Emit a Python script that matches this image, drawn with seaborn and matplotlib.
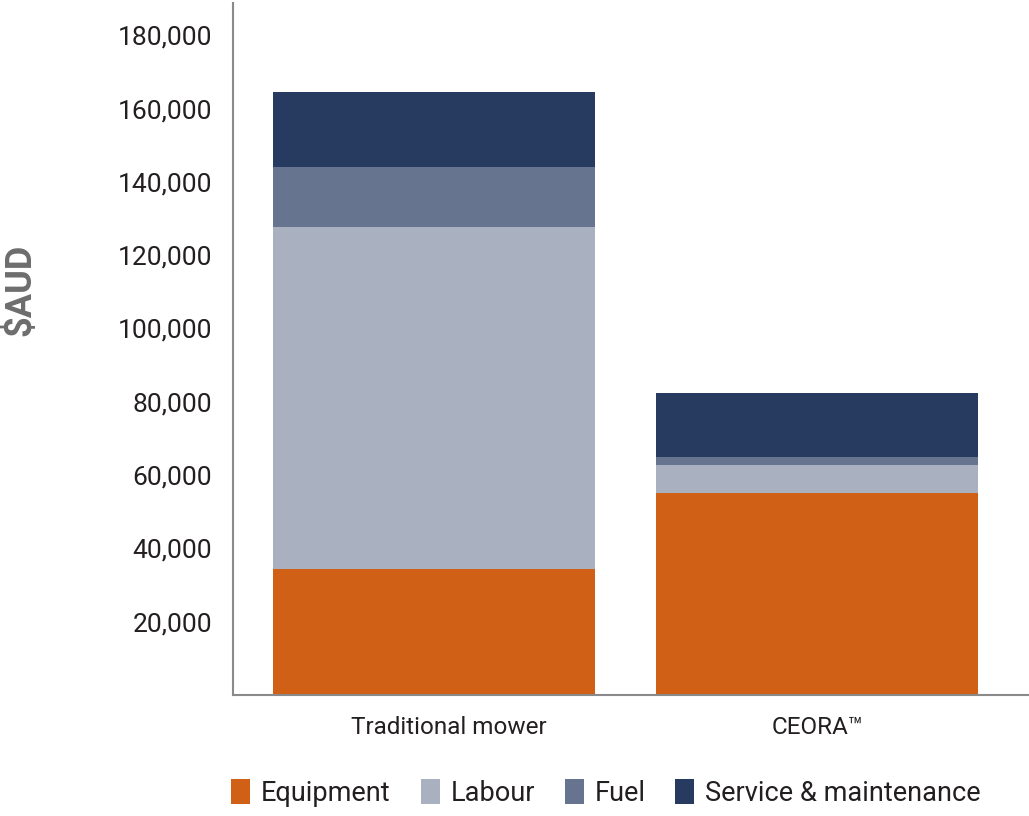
import numpy as np
import pandas as pd
import seaborn as sns
import matplotlib.pyplot as plt
import matplotlib.transforms as mtransforms
from matplotlib.patches import Patch

# data
mowers = ["Traditional mower", "CEORA\u2122"]
equipment = [34400, 55100]
labour = [93300, 7600]
fuel = [16400, 2200]
service = [20500, 17500]

series = ["Equipment", "Labour", "Fuel", "Service & maintenance"]
colours = ["#D06015", "#A9B0C0", "#66748F", "#273A60"]
ticks = [20000, 40000, 60000, 80000, 100000, 120000, 140000, 160000, 180000]

sns.set_style("white")
plt.rcParams['font.family'] = ['Liberation Sans Narrow', 'Roboto', 'DejaVu Sans']
txt = "#231F20"

fig = plt.figure(figsize=(10.29, 8.16), dpi=100)
ax = fig.add_axes([233/1029, 121/816, 1 - 233/1029, 692/816])

bottom = np.zeros(len(mowers))
for name, vals, col in zip(series, [equipment, labour, fuel, service], colours):
    sns.barplot(x=mowers, y=vals, bottom=bottom, color=col, width=0.84,
                linewidth=0, saturation=1, ax=ax)
    bottom += np.array(vals)

ax.set_xlim(-0.525, 1.553)
ax.set_ylim(0, 188800)
ax.set_yticks(ticks)
ax.set_yticklabels([f"{t:,}" for t in ticks])
ax.tick_params(axis="y", length=0, pad=15, labelsize=19, labelcolor=txt)
ax.tick_params(axis="x", length=0, pad=15, labelsize=17.5, labelcolor=txt)
for s in ["top", "right"]:
    ax.spines[s].set_visible(False)
for s in ["left", "bottom"]:
    ax.spines[s].set_color("#8a8a8a")
    ax.spines[s].set_linewidth(1.5)
ax.set_xlabel("")
ax.set_ylabel("")

# first category label sits a bit right of its bar centre in the original
lbl = ax.get_xticklabels()[0]
lbl.set_transform(lbl.get_transform() + mtransforms.ScaledTranslation(0.15, 0, fig.dpi_scale_trans))

fig.text(20/1029, 1 - 290/816, "$AUD", rotation=90, ha="center", va="center",
         fontsize=26, fontweight="bold", color="#6d6d6d")

handles = [Patch(facecolor=c, edgecolor="none", label=n) for n, c in zip(series, colours)]
fig.legend(handles=handles, loc="center", bbox_to_anchor=(606/1029, 1 - 793/816),
           ncol=4, frameon=False, fontsize=19.5, handlelength=0.7, handleheight=1.0,
           handletextpad=0.4, columnspacing=1.1, labelcolor=txt)

fig.savefig("out.png", dpi=100)
